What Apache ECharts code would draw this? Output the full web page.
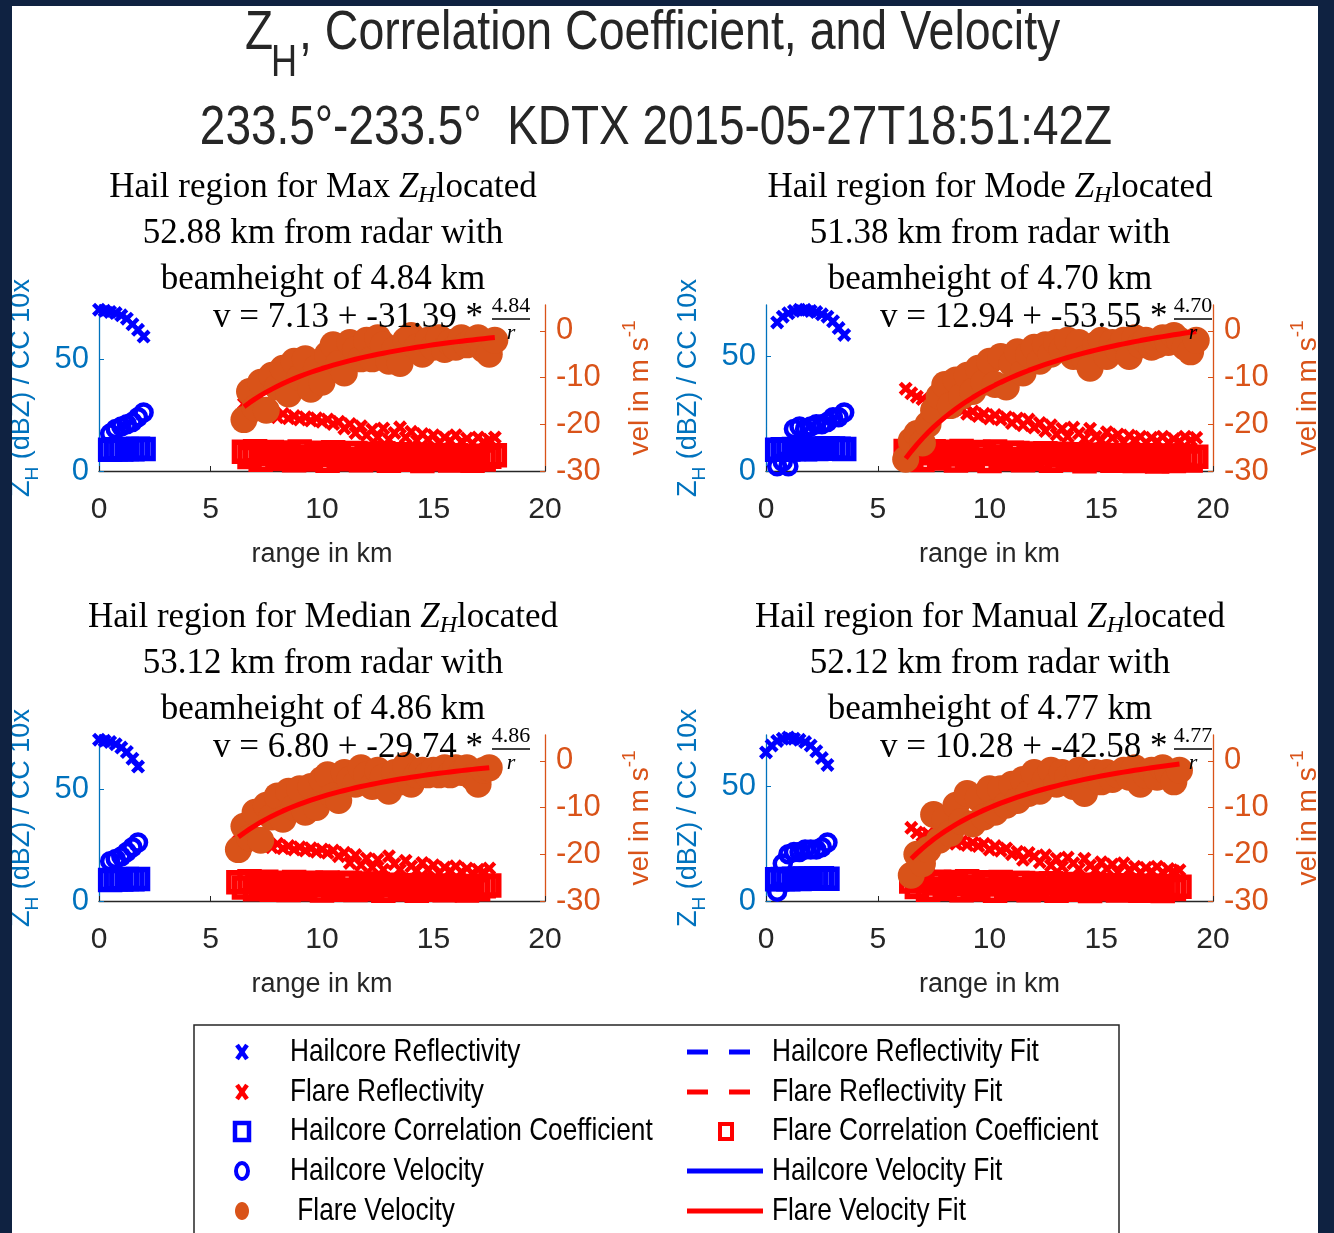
<!DOCTYPE html>
<html>
<head>
<meta charset="utf-8">
<title>ZH, Correlation Coefficient, and Velocity</title>
<script src="https://cdn.jsdelivr.net/npm/echarts@6/dist/echarts.min.js"></script>
<style>
  html, body { margin: 0; padding: 0; background: #ffffff; }
  #chart { width: 1334px; height: 1233px; }
</style>
</head>
<body>
<div id="chart"></div>
<script>
// ---------------- data (range in km from the hail region start) ----------------
const panelKind = ['Max', 'Mode', 'Median', 'Manual'];
const panelDistKm = ['52.88', '51.38', '53.12', '52.12'];
const panelBeamKm = ['4.84', '4.70', '4.86', '4.77'];

// flare velocity fit: v = a + b * (h / r)
const fitA = [7.13, 12.94, 6.80, 10.28];
const fitB = [-31.39, -53.55, -29.74, -42.58];
const fitH = [4.84, 4.70, 4.86, 4.77];

const zhTicks = [0, 50];
const velTicks = [-30, -20, -10, 0];
const zhAxisMax = [74.1, 72.6, 74.1, 72.6];
const velAxisMin = -30;
const velAxisMax = 5.53;

// ---- Max ----
const hailRange1 = [0, 0.25, 0.5, 0.75, 1, 1.25, 1.5, 1.75, 2];
const hailZ1 = [72, 71.5, 71, 70.5, 69.5, 68, 65.5, 63, 60];
const hailRangeCV1 = [0.5, 0.75, 1, 1.25, 1.5, 1.75, 2];
const hailCC1 = [9.5, 9.7, 9.6, 9.8, 9.7, 9.9, 9.8];
const hailVel1 = [-22, -21, -20.5, -20, -19.5, -18.5, -17.5];
const flareRange1 = [6.5, 6.75, 7, 7.25, 7.5, 7.75, 8, 8.25, 8.5, 8.75,
  9, 9.25, 9.5, 9.75, 10, 10.25, 10.5, 10.75, 11, 11.25,
  11.5, 11.75, 12, 12.25, 12.5, 12.75, 13, 13.25, 13.5, 13.75,
  14, 14.25, 14.5, 14.75, 15, 15.25, 15.5, 15.75, 16, 16.25,
  16.5, 16.75, 17, 17.25, 17.5, 17.75];
const flareZ1 = [30, 27, 26, 25, 24.5, 25.5, 24, 25.5, 23.5, 24.5,
  23, 24, 22.5, 23.5, 22, 23, 21, 22, 19, 21,
  17, 20, 16, 18.5, 15, 19, 14, 17, 19.5, 15,
  17.5, 13.5, 16.5, 14, 16, 12.5, 15, 13.5, 16, 13,
  14.5, 12.5, 15, 13, 14, 15];
const flareCC1 = [8.6, 6.2, 8.8, 5.0, 7.6, 8.5, 5.4, 7.1, 8.3, 4.8,
  8.7, 6.4, 5.1, 8.2, 7.3, 4.6, 8.4, 6.1, 5.3, 7.9,
  8.0, 4.8, 6.9, 7.7, 5.4, 7.9, 4.6, 6.7, 7.5, 5.0,
  7.2, 5.8, 4.5, 6.9, 7.1, 5.2, 6.3, 4.7, 7.0, 5.5,
  6.6, 4.6, 6.8, 5.1, 6.4, 7.0];
const flareVel1 = [-19, -13, -16.5, -11, -17, -9.5, -12, -8, -13.5, -6.5,
  -10, -6, -12.5, -8, -11, -5, -3, -7, -9, -2.5,
  -4, -6, -2, -6, -1.5, -3, -6.5, -4, -7, -2,
  -1, -3.5, -5, -2, -3.5, -1.5, -4, -2.5, -3.5, -1.5,
  -3, -2, -1.5, -4, -5, -2];

// ---- Mode ----
const hailRange2 = [0.5, 0.75, 1, 1.25, 1.5, 1.75, 2, 2.25, 2.5, 2.75, 3, 3.25, 3.5];
const hailZ2 = [65, 67.5, 69, 70, 70.5, 70.5, 70, 69.5, 68.5, 67.5, 65.5, 62.5, 59.5];
const hailRangeCV2 = [0.5, 0.75, 1, 1.25, 1.5, 1.75, 2, 2.25, 2.5, 2.75, 3, 3.25, 3.5];
const hailCC2 = [9.3, 9.5, 9.4, 9.6, 9.7, 9.5, 9.8, 9.6, 9.7, 9.9, 9.8, 9.7, 9.6];
const hailVel2 = [-29, -28, -29, -21, -20.5, -21, -20.5, -20, -20, -19.5, -18.5, -18.5, -17.5];
const flareRange2 = [6.25, 6.5, 6.75, 7, 7.25, 7.5, 7.75, 8, 8.25, 8.5,
  8.75, 9, 9.25, 9.5, 9.75, 10, 10.25, 10.5, 10.75, 11,
  11.25, 11.5, 11.75, 12, 12.25, 12.5, 12.75, 13, 13.25, 13.5,
  13.75, 14, 14.25, 14.5, 14.75, 15, 15.25, 15.5, 15.75, 16,
  16.25, 16.5, 16.75, 17, 17.25, 17.5, 17.75, 18, 18.25, 18.5,
  18.75, 19, 19.25];
const flareZ2 = [36, 34, 32.5, 31.5, 30.5, 31, 29.5, 30, 28, 27,
  26.5, 25, 26, 24, 25, 23, 24.5, 22.5, 23.5, 21,
  23, 20, 22.5, 19, 21, 17.5, 20, 16, 18.5, 15,
  19, 16.5, 14, 18.5, 15, 13.5, 17, 14.5, 16, 12.5,
  15.5, 13.5, 15, 12.5, 14.5, 13, 15, 12.5, 14, 13,
  15, 13.5, 14.5];
const flareCC2 = [8.7, 6.0, 8.5, 4.8, 7.8, 8.6, 5.5, 7.2, 8.4, 4.6,
  8.8, 6.6, 5.0, 8.3, 7.4, 4.4, 8.5, 6.2, 5.2, 8.0,
  7.9, 4.7, 7.0, 7.6, 5.3, 7.8, 4.5, 6.8, 7.5, 4.9,
  7.3, 5.7, 4.3, 7.0, 7.1, 5.1, 6.4, 4.5, 7.0, 5.4,
  6.6, 4.4, 6.9, 5.0, 6.5, 4.2, 6.8, 5.6, 4.4, 6.3,
  6.7, 4.6, 6.2];
const flareVel2 = [-27.5, -23.5, -22, -24, -20, -17, -14, -11.5, -16, -10.5,
  -14, -9.5, -13, -8, -11, -6.5, -11.5, -5.5, -12, -7,
  -4.5, -9, -5, -3.5, -6.5, -3, -5, -2.5, -4, -2,
  -5.5, -2.5, -6, -8, -3, -2, -5.5, -2.5, -4, -2,
  -5.5, -1.5, -3, -2, -3.5, -3, -1.5, -2.5, -1, -2,
  -3.5, -4.5, -2];

// ---- Median ----
const hailRange3 = [0, 0.25, 0.5, 0.75, 1, 1.25, 1.5, 1.75];
const hailZ3 = [72, 71.5, 71, 70, 68.5, 66.5, 63.5, 60];
const hailRangeCV3 = [0.5, 0.75, 1, 1.25, 1.5, 1.75];
const hailCC3 = [9.4, 9.7, 9.6, 9.8, 9.7, 9.8];
const hailVel3 = [-21.5, -21, -20.5, -19.5, -18.5, -17.5];
const flareRange3 = [6.25, 6.5, 6.75, 7, 7.25, 7.5, 7.75, 8, 8.25, 8.5,
  8.75, 9, 9.25, 9.5, 9.75, 10, 10.25, 10.5, 10.75, 11,
  11.25, 11.5, 11.75, 12, 12.25, 12.5, 12.75, 13, 13.25, 13.5,
  13.75, 14, 14.25, 14.5, 14.75, 15, 15.25, 15.5, 15.75, 16,
  16.25, 16.5, 16.75, 17, 17.25, 17.5];
const flareZ3 = [30, 27, 26, 25, 24.5, 26, 24, 25.5, 23.5, 24.5,
  23, 24, 22.5, 23.5, 22, 23, 21.5, 22.5, 20, 21.5,
  17, 20.5, 16, 19, 15, 18.5, 14, 20, 16.5, 14,
  18, 15.5, 13.5, 17, 14, 16, 12.5, 15, 13.5, 15.5,
  13, 14.5, 12.5, 14, 13, 14.5];
const flareCC3 = [8.4, 6.0, 8.8, 5.2, 7.4, 8.6, 5.0, 7.3, 8.2, 4.9,
  8.5, 6.5, 5.2, 8.1, 7.0, 4.7, 8.3, 6.3, 5.0, 7.8,
  8.1, 4.9, 6.7, 7.8, 5.3, 7.6, 4.6, 6.9, 7.3, 5.1,
  7.0, 5.9, 4.6, 7.1, 6.8, 5.0, 6.5, 4.8, 6.9, 5.6,
  6.4, 4.7, 6.7, 5.2, 6.6, 6.9];
const flareVel3 = [-19, -14, -16.5, -11, -17, -9.5, -12, -7.5, -12.5, -6.5,
  -10, -6, -11, -5.5, -10, -4, -3, -7.5, -8.5, -2.5,
  -4, -5, -1.5, -3, -5.5, -2, -3.5, -6.5, -2.5, -4.5,
  -1, -5, -3, -2, -3, -2, -3, -1.5, -3, -1.5,
  -2.5, -1.5, -3.5, -5, -2, -1.5];

// ---- Manual ----
const hailRange4 = [0, 0.25, 0.5, 0.75, 1, 1.25, 1.5, 1.75, 2, 2.25, 2.5, 2.75];
const hailZ4 = [65, 68, 70, 71, 71.5, 71, 70.5, 69.5, 68, 65.5, 62.5, 59.5];
const hailRangeCV4 = [0.5, 0.75, 1, 1.25, 1.5, 1.75, 2, 2.25, 2.5, 2.75];
const hailCC4 = [9.5, 9.6, 9.5, 9.7, 9.6, 9.8, 9.7, 9.8, 9.9, 9.7];
const hailVel4 = [-28, -22, -20, -19.5, -19.5, -19, -19, -19, -18.5, -17.5];
const flareRange4 = [6.5, 6.75, 7, 7.25, 7.5, 7.75, 8, 8.25, 8.5, 8.75,
  9, 9.25, 9.5, 9.75, 10, 10.25, 10.5, 10.75, 11, 11.25,
  11.5, 11.75, 12, 12.25, 12.5, 12.75, 13, 13.25, 13.5, 13.75,
  14, 14.25, 14.5, 14.75, 15, 15.25, 15.5, 15.75, 16, 16.25,
  16.5, 16.75, 17, 17.25, 17.5, 17.75, 18, 18.25, 18.5];
const flareZ4 = [32, 30, 28.5, 29.5, 27, 28, 26, 27, 25, 26,
  24.5, 25.5, 24, 25, 22.5, 24, 22, 23, 20.5, 21.5,
  18, 21, 19.5, 17, 20, 15.5, 18.5, 15, 19, 16.5,
  14, 18.5, 15.5, 13.5, 17, 14, 16, 12.5, 16.5, 13.5,
  15, 12.5, 14.5, 13, 15, 12.5, 14, 13, 13.5];
const flareCC4 = [8.5, 6.1, 8.7, 4.9, 7.7, 8.4, 5.3, 7.2, 8.3, 4.7,
  8.6, 6.3, 5.0, 8.2, 7.2, 4.5, 8.3, 6.0, 5.2, 7.9,
  7.9, 4.7, 6.8, 7.6, 5.2, 7.8, 4.5, 6.6, 7.4, 4.9,
  7.1, 5.7, 4.4, 6.8, 7.0, 5.1, 6.2, 4.6, 6.9, 5.4,
  6.5, 4.5, 6.7, 5.0, 6.3, 4.4, 6.6, 5.3, 6.2];
const flareVel4 = [-24.5, -20, -22, -19, -11.5, -17, -12.5, -15.5, -9.5, -13,
  -7, -13.5, -8, -12, -6, -11, -6, -9.5, -5, -8.5,
  -4, -7, -2.5, -6.5, -4, -2, -5, -2.5, -3.5, -5.5,
  -2, -7, -3, -2.5, -4.5, -2.5, -4, -3, -2, -3.5,
  -1.5, -5, -3, -2, -3.5, -1.5, -2.5, -4.5, -2];

// ---------------- styling ----------------
const SANS = "'Liberation Sans', Arial, Helvetica, sans-serif";
const SERIF = "'Liberation Serif', 'Times New Roman', serif";
const NARROW = 0.82;             // condensed look of the title/legend face
const C_LEFT = '#0072BD';
const C_RIGHT = '#D95319';
const C_AXIS = '#262626';
const C_HAIL = '#0000FF';
const C_FLARE = '#FF0000';
const C_FLARE_VEL = '#D95319';
// bold "x" marker
const X_MARK = 'path://M0,2.2L2.2,0L5,2.8L7.8,0L10,2.2L7.2,5L10,7.8L7.8,10L5,7.2L2.2,10L0,7.8L2.8,5Z';

const panels = [
  { hr: hailRange1, hz: hailZ1, hcr: hailRangeCV1, hc: hailCC1, hv: hailVel1, fr: flareRange1, fz: flareZ1, fc: flareCC1, fv: flareVel1 },
  { hr: hailRange2, hz: hailZ2, hcr: hailRangeCV2, hc: hailCC2, hv: hailVel2, fr: flareRange2, fz: flareZ2, fc: flareCC2, fv: flareVel2 },
  { hr: hailRange3, hz: hailZ3, hcr: hailRangeCV3, hc: hailCC3, hv: hailVel3, fr: flareRange3, fz: flareZ3, fc: flareCC3, fv: flareVel3 },
  { hr: hailRange4, hz: hailZ4, hcr: hailRangeCV4, hc: hailCC4, hv: hailVel4, fr: flareRange4, fz: flareZ4, fc: flareCC4, fv: flareVel4 }
];

// plot-area boxes [left, top, width]
const gridBox = [[99, 305, 446], [766, 305, 447], [99, 735, 446], [766, 735, 447]];
const GRID_H = 166;

const zip = (xs, ys) => xs.map((x, i) => [x, ys[i]]);

const grids = [], xAxes = [], yAxes = [], series = [];

panels.forEach((p, i) => {
  const [l, t, w] = gridBox[i];
  grids.push({ left: l, top: t, width: w, height: GRID_H });

  xAxes.push({
    type: 'value', gridIndex: i, min: 0, max: 20, interval: 5,
    axisLine: { onZero: false, lineStyle: { color: C_AXIS, width: 1.3 } },
    axisTick: { inside: true, length: 5, lineStyle: { color: C_AXIS } },
    axisLabel: { color: C_AXIS, fontSize: 30, fontFamily: SANS, margin: 24 },
    splitLine: { show: false },
    name: 'range in km', nameLocation: 'middle', nameGap: 70,
    nameTextStyle: { color: C_AXIS, fontSize: 27, fontFamily: SANS }
  });

  yAxes.push({
    type: 'value', gridIndex: i, position: 'left', min: 0, max: zhAxisMax[i],
    axisLine: { show: true, lineStyle: { color: C_LEFT, width: 1.3 } },
    axisTick: { show: true, inside: true, length: 5, customValues: zhTicks, lineStyle: { color: C_LEFT } },
    axisLabel: { customValues: zhTicks, color: C_LEFT, fontSize: 31, fontFamily: SANS, margin: 10 },
    splitLine: { show: false },
    name: '{z|Z}{h|H}{t| (dBZ) / CC 10x}', nameLocation: 'middle', nameRotate: 90, nameGap: 57,
    nameTextStyle: {
      color: C_LEFT, fontSize: 27, fontFamily: SANS,
      rich: {
        z: { color: C_LEFT, fontSize: 27, fontFamily: SANS, lineHeight: 40 },
        h: { color: C_LEFT, fontSize: 19, fontFamily: SANS, lineHeight: 20, verticalAlign: 'bottom' },
        t: { color: C_LEFT, fontSize: 27, fontFamily: SANS, lineHeight: 40 }
      }
    }
  });

  yAxes.push({
    type: 'value', gridIndex: i, position: 'right', min: velAxisMin, max: velAxisMax,
    axisLine: { show: true, lineStyle: { color: C_RIGHT, width: 1.3 } },
    axisTick: { show: true, inside: true, length: 5, customValues: velTicks, lineStyle: { color: C_RIGHT } },
    axisLabel: { customValues: velTicks, color: C_RIGHT, fontSize: 31, fontFamily: SANS, margin: 11 },
    splitLine: { show: false },
    name: '{t|vel in m s}{s|-1}', nameLocation: 'middle', nameRotate: 90, nameGap: 75,
    nameTextStyle: {
      color: C_RIGHT, fontSize: 28, fontFamily: SANS,
      rich: {
        t: { color: C_RIGHT, fontSize: 28, fontFamily: SANS, lineHeight: 40 },
        s: { color: C_RIGHT, fontSize: 19, fontFamily: SANS, lineHeight: 20, verticalAlign: 'top' }
      }
    }
  });

  const xi = i, yl = 2 * i, yr = 2 * i + 1;
  series.push(
    { name: 'Hailcore Reflectivity', type: 'scatter', xAxisIndex: xi, yAxisIndex: yl, z: 2,
      symbol: X_MARK, symbolSize: 14, itemStyle: { color: C_HAIL, opacity: 1 }, data: zip(p.hr, p.hz) },
    { name: 'Flare Reflectivity', type: 'scatter', xAxisIndex: xi, yAxisIndex: yl, z: 2,
      symbol: X_MARK, symbolSize: 14, itemStyle: { color: C_FLARE, opacity: 1 }, data: zip(p.fr, p.fz) },
    { name: 'Hailcore Correlation Coefficient', type: 'scatter', xAxisIndex: xi, yAxisIndex: yl, z: 3,
      symbol: 'rect', symbolSize: 19,
      itemStyle: { color: 'rgba(0,0,0,0)', borderColor: C_HAIL, borderWidth: 5.5, opacity: 1 }, data: zip(p.hcr, p.hc) },
    { name: 'Flare Correlation Coefficient', type: 'scatter', xAxisIndex: xi, yAxisIndex: yl, z: 3,
      symbol: 'rect', symbolSize: 19,
      itemStyle: { color: 'rgba(0,0,0,0)', borderColor: C_FLARE, borderWidth: 5.5, opacity: 1 }, data: zip(p.fr, p.fc) },
    { name: 'Hailcore Velocity', type: 'scatter', xAxisIndex: xi, yAxisIndex: yr, z: 4,
      symbol: 'circle', symbolSize: 16,
      itemStyle: { color: 'rgba(0,0,0,0)', borderColor: C_HAIL, borderWidth: 4.5, opacity: 1 }, data: zip(p.hcr, p.hv) },
    { name: 'Flare Velocity', type: 'scatter', xAxisIndex: xi, yAxisIndex: yr, z: 5,
      symbol: 'circle', symbolSize: 27, itemStyle: { color: C_FLARE_VEL, opacity: 1 }, data: zip(p.fr, p.fv) },
    { name: 'Flare Velocity Fit', type: 'line', xAxisIndex: xi, yAxisIndex: yr, z: 6,
      showSymbol: false, symbol: 'none', silent: true,
      lineStyle: { color: C_FLARE, width: 5 },
      data: p.fr.map(r => [r, fitA[i] + fitB[i] * fitH[i] / r]) }
  );
});

// ---------------- titles, equations, legend ----------------
const graphic = [];
const txt = (x, y, text, o) => Object.assign({
  type: 'text', x: x, y: y, z: 50,
  style: Object.assign({ text: text, fill: '#000', align: 'left', verticalAlign: 'middle' }, o || {})
});

// figure title
[
  Object.assign(txt(245, 34, 'Z', { font: `56px ${SANS}`, fill: '#262626' }), { scaleX: NARROW }),
  Object.assign(txt(271, 64, 'H', { font: `44px ${SANS}`, fill: '#262626' }), { scaleX: NARROW }),
  Object.assign(txt(299, 34, ', Correlation Coefficient, and Velocity', { font: `56px ${SANS}`, fill: '#262626' }), { scaleX: 0.83 }),
  Object.assign(txt(656, 129, '233.5°-233.5°  KDTX 2015-05-27T18:51:42Z', { font: `56px ${SANS}`, fill: '#262626', align: 'center' }), { scaleX: NARROW })
].forEach(g => graphic.push(g));

// panel titles and fit equations
const titleCx = [323, 990, 323, 990];
const titleTop = [188, 188, 618, 618];
const eqLeft = [213, 880, 213, 880];
const fracCx = [511, 1193, 511, 1193];
panels.forEach((p, i) => {
  const cx = titleCx[i], ty = titleTop[i];
  graphic.push(txt(cx, ty, `{n|Hail region for ${panelKind[i]} }{i|Z}{s|H}{n|located}`, {
    align: 'center',
    rich: {
      n: { fontSize: 35, fontFamily: SERIF, lineHeight: 40, fill: '#000' },
      i: { fontSize: 35, fontFamily: SERIF, fontStyle: 'italic', lineHeight: 40, fill: '#000' },
      s: { fontSize: 24, fontFamily: SERIF, fontStyle: 'italic', lineHeight: 24, verticalAlign: 'bottom', fill: '#000' }
    }
  }));
  graphic.push(txt(cx, ty + 46, `${panelDistKm[i]} km from radar with`, { align: 'center', font: `35px ${SERIF}` }));
  graphic.push(txt(cx, ty + 92, `beamheight of ${panelBeamKm[i]} km`, { align: 'center', font: `35px ${SERIF}` }));

  const a = fitA[i].toFixed(2), b = fitB[i].toFixed(2);
  graphic.push(txt(eqLeft[i], ty + 130, `v = ${a} + ${b} *`, { font: `35px ${SERIF}` }));
  const fx = fracCx[i];
  graphic.push(txt(fx, ty + 118, fitH[i].toFixed(2), { align: 'center', font: `22px ${SERIF}` }));
  graphic.push({ type: 'line', z: 50, shape: { x1: fx - 19, y1: ty + 131, x2: fx + 19, y2: ty + 131 },
    style: { stroke: '#000', lineWidth: 1.6 } });
  graphic.push(txt(fx, ty + 145, 'r', { align: 'center', font: `italic 22px ${SERIF}` }));
});

// legend
graphic.push({ type: 'rect', z: 40, shape: { x: 194, y: 1025, width: 925, height: 240 },
  style: { fill: '#fff', stroke: C_AXIS, lineWidth: 1.5 } });
const rowY = [1052, 1092, 1131, 1171, 1211];
const col1Icon = 242, col1Text = 290, col2L = 687, col2R = 763, col2Text = 772;
const legendFont = `32px ${SANS}`;
const legendText = (x, y, s) => Object.assign(txt(x, y, s, { font: legendFont }), { scaleX: NARROW, z: 45 });
const xIcon = (cx, cy, color) => [
  { type: 'line', z: 45, shape: { x1: cx - 5, y1: cy - 7, x2: cx + 5, y2: cy + 7 }, style: { stroke: color, lineWidth: 4.5 } },
  { type: 'line', z: 45, shape: { x1: cx - 5, y1: cy + 7, x2: cx + 5, y2: cy - 7 }, style: { stroke: color, lineWidth: 4.5 } }
];
const dashIcon = (y, color) => [
  { type: 'line', z: 45, shape: { x1: col2L, y1: y, x2: col2L + 21, y2: y }, style: { stroke: color, lineWidth: 5 } },
  { type: 'line', z: 45, shape: { x1: col2L + 42, y1: y, x2: col2L + 63, y2: y }, style: { stroke: color, lineWidth: 5 } }
];
const solidIcon = (y, color) => [
  { type: 'line', z: 45, shape: { x1: col2L, y1: y, x2: col2R, y2: y }, style: { stroke: color, lineWidth: 5 } }
];
[
  ...xIcon(col1Icon, rowY[0], C_HAIL),
  legendText(col1Text, rowY[0], 'Hailcore Reflectivity'),
  ...xIcon(col1Icon, rowY[1], C_FLARE),
  legendText(col1Text, rowY[1], 'Flare Reflectivity'),
  { type: 'rect', z: 45, shape: { x: col1Icon - 7, y: rowY[2] - 8, width: 14, height: 17 },
    style: { fill: 'none', stroke: C_HAIL, lineWidth: 4.5 } },
  legendText(col1Text, rowY[2], 'Hailcore Correlation Coefficient'),
  { type: 'ellipse', z: 45, shape: { cx: col1Icon, cy: rowY[3], rx: 6, ry: 8 },
    style: { fill: 'none', stroke: C_HAIL, lineWidth: 4 } },
  legendText(col1Text, rowY[3], 'Hailcore Velocity'),
  { type: 'ellipse', z: 45, shape: { cx: col1Icon, cy: rowY[4], rx: 7, ry: 9 },
    style: { fill: C_FLARE_VEL } },
  legendText(col1Text, rowY[4], ' Flare Velocity'),
  ...dashIcon(rowY[0], C_HAIL),
  legendText(col2Text, rowY[0], 'Hailcore Reflectivity Fit'),
  ...dashIcon(rowY[1], C_FLARE),
  legendText(col2Text, rowY[1], 'Flare Reflectivity Fit'),
  { type: 'rect', z: 45, shape: { x: 720, y: rowY[2] - 7, width: 12, height: 15 },
    style: { fill: 'none', stroke: C_FLARE, lineWidth: 4 } },
  legendText(col2Text, rowY[2], 'Flare Correlation Coefficient'),
  ...solidIcon(rowY[3], C_HAIL),
  legendText(col2Text, rowY[3], 'Hailcore Velocity Fit'),
  ...solidIcon(rowY[4], C_FLARE),
  legendText(col2Text, rowY[4], 'Flare Velocity Fit')
].forEach(g => graphic.push(g));

// dark frame around the figure
const FRAME = '#0f2241';
graphic.push(
  { type: 'rect', z: 90, shape: { x: 0, y: 0, width: 1334, height: 6 }, style: { fill: FRAME } },
  { type: 'rect', z: 90, shape: { x: 0, y: 0, width: 12, height: 1233 }, style: { fill: FRAME } },
  { type: 'rect', z: 90, shape: { x: 1318, y: 0, width: 16, height: 1233 }, style: { fill: FRAME } }
);

const chart = echarts.init(document.getElementById('chart'), null, { renderer: 'canvas' });
chart.setOption({
  animation: false,
  backgroundColor: '#ffffff',
  grid: grids,
  xAxis: xAxes,
  yAxis: yAxes,
  series: series,
  graphic: graphic
});
</script>
</body>
</html>
